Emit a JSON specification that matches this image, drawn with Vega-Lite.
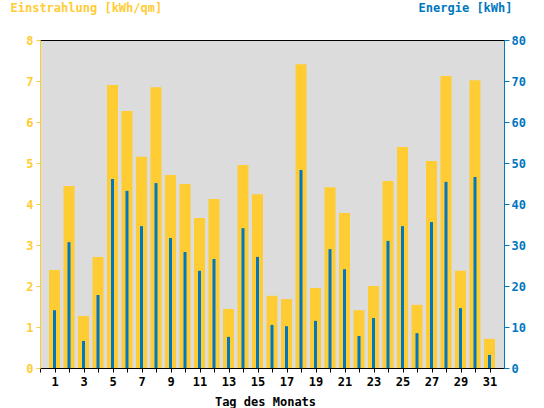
{
  "$schema": "https://vega.github.io/schema/vega-lite/v6.json",
  "width": 464,
  "height": 328,
  "autosize": {"type": "none"},
  "padding": {"left": 40, "top": 40, "right": 40, "bottom": 40},
  "background": "white",
  "config": {
    "view": {"fill": "#DCDCDC", "stroke": "black", "strokeWidth": 1},
    "font": "DejaVu Sans Mono",
    "axis": {"labelFont": "DejaVu Sans Mono", "labelFontWeight": "bold", "labelFontSize": 12, "titleFont": "DejaVu Sans Mono", "titleFontWeight": "bold", "titleFontSize": 12, "grid": false}
  },
  "data": {"values": [
    {"tag": 1, "einstrahlung": 2.39, "energie": 14.1},
    {"tag": 2, "einstrahlung": 4.44, "energie": 30.7},
    {"tag": 3, "einstrahlung": 1.27, "energie": 6.6},
    {"tag": 4, "einstrahlung": 2.71, "energie": 17.8},
    {"tag": 5, "einstrahlung": 6.9, "energie": 46.1},
    {"tag": 6, "einstrahlung": 6.27, "energie": 43.2},
    {"tag": 7, "einstrahlung": 5.15, "energie": 34.6},
    {"tag": 8, "einstrahlung": 6.85, "energie": 45.1},
    {"tag": 9, "einstrahlung": 4.71, "energie": 31.7},
    {"tag": 10, "einstrahlung": 4.49, "energie": 28.3},
    {"tag": 11, "einstrahlung": 3.66, "energie": 23.7},
    {"tag": 12, "einstrahlung": 4.12, "energie": 26.6},
    {"tag": 13, "einstrahlung": 1.44, "energie": 7.6},
    {"tag": 14, "einstrahlung": 4.95, "energie": 34.1},
    {"tag": 15, "einstrahlung": 4.24, "energie": 27.1},
    {"tag": 16, "einstrahlung": 1.76, "energie": 10.5},
    {"tag": 17, "einstrahlung": 1.68, "energie": 10.2},
    {"tag": 18, "einstrahlung": 7.41, "energie": 48.3},
    {"tag": 19, "einstrahlung": 1.95, "energie": 11.5},
    {"tag": 20, "einstrahlung": 4.41, "energie": 29.0},
    {"tag": 21, "einstrahlung": 3.78, "energie": 24.1},
    {"tag": 22, "einstrahlung": 1.41, "energie": 7.8},
    {"tag": 23, "einstrahlung": 2.0, "energie": 12.2},
    {"tag": 24, "einstrahlung": 4.56, "energie": 31.0},
    {"tag": 25, "einstrahlung": 5.39, "energie": 34.6},
    {"tag": 26, "einstrahlung": 1.54, "energie": 8.5},
    {"tag": 27, "einstrahlung": 5.05, "energie": 35.6},
    {"tag": 28, "einstrahlung": 7.12, "energie": 45.4},
    {"tag": 29, "einstrahlung": 2.37, "energie": 14.6},
    {"tag": 30, "einstrahlung": 7.02, "energie": 46.6},
    {"tag": 31, "einstrahlung": 0.71, "energie": 3.2}
  ]},
  "encoding": {
    "x": {
      "field": "tag", "type": "quantitative",
      "scale": {"domain": [0, 32], "nice": false, "zero": false, "padding": 0},
      "axis": {
        "values": [0,1,2,3,4,5,6,7,8,9,10,11,12,13,14,15,16,17,18,19,20,21,22,23,24,25,26,27,28,29,30,31],
        "labelExpr": "datum.value % 2 == 1 ? datum.label : ''",
        "domainColor": "black", "tickColor": "black", "labelColor": "black",
        "tickSize": 4, "labelPadding": 4, "labelFlush": false,
        "title": "Tag des Monats", "titleColor": "black",
        "titleAnchor": "start", "titleAlign": "center", "titleX": 225, "titleY": 33, "titleBaseline": "middle"
      }
    }
  },
  "layer": [
    {
      "mark": {"type": "bar", "color": "#FFCC33", "size": 11},
      "encoding": {
        "y": {
          "field": "einstrahlung", "type": "quantitative",
          "scale": {"domain": [0, 8], "nice": false},
          "axis": {
            "orient": "left", "values": [0,1,2,3,4,5,6,7,8],
            "domainColor": "#FFCC33", "tickColor": "#FFCC33", "labelColor": "#FFCC33",
            "tickSize": 4, "labelPadding": 3, "labelFlush": false,
            "title": "Einstrahlung [kWh/qm]", "titleColor": "#FFCC33",
            "titleAngle": 0, "titleAlign": "left", "titleBaseline": "middle", "titleAnchor": "end",
            "titleX": -30, "titleY": -33
          }
        }
      }
    },
    {
      "mark": {"type": "bar", "color": "#0077C0", "size": 3},
      "encoding": {
        "y": {
          "field": "energie", "type": "quantitative",
          "scale": {"domain": [0, 80], "nice": false},
          "axis": {
            "orient": "right", "values": [0,10,20,30,40,50,60,70,80],
            "domainColor": "#0077C0", "tickColor": "#0077C0", "labelColor": "#0077C0",
            "tickSize": 5, "labelPadding": 2, "labelFlush": false,
            "title": "Energie [kWh]", "titleColor": "#0077C0",
            "titleAngle": 0, "titleAlign": "right", "titleBaseline": "middle", "titleAnchor": "end",
            "titleX": 8, "titleY": -33
          }
        }
      }
    }
  ],
  "resolve": {"scale": {"y": "independent"}}
}
